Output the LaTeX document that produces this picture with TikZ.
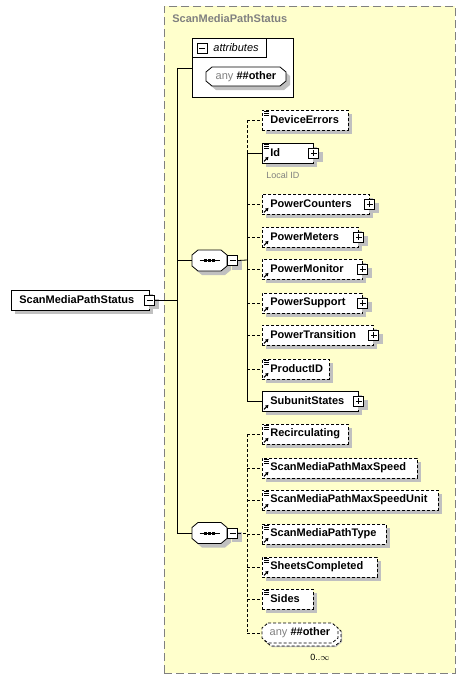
\documentclass[tikz,border=0pt]{standalone}
\usepackage{fontspec}
\setmainfont{Liberation Sans}
\usetikzlibrary{arrows.meta,positioning,shadows}
\definecolor{paleyel}{HTML}{FFFFCC}
\definecolor{midgray}{HTML}{808080}
\definecolor{shadegray}{HTML}{C0C0C0}

% markers drawn inside the element boxes
\newcommand\docmark[1]{\foreach \dy in {2,4,6} \draw[solid, line width=0.7pt] ([shift={(2,\dy)}]#1.north west) -- ++(5,0);}
\newcommand\refmark[1]{\draw[solid, line width=1pt, -{Triangle[length=3pt,width=3.5pt]}] ([shift={(2,-2)}]#1.south west) -- ([shift={(6.5,-6.5)}]#1.south west);}
\newcommand\seqmark[1]{\draw[solid] ([xshift=-10pt]#1.center) -- ([xshift=10pt]#1.center);
  \foreach \dx in {-4,0,4} \fill ([shift={(\dx-1.5,-1.5)}]#1.center) rectangle ++(3,3);}
% chamfered outline: options, centre x, centre y, half width, half height
\newcommand\octline[5]{\draw[fill=white,#1] (#2-#4+6,#3-#5) -- (#2+#4-6,#3-#5) -- (#2+#4,#3-#5+5) -- (#2+#4,#3+#5-5)
  -- (#2+#4-6,#3+#5) -- (#2-#4+6,#3+#5) -- (#2-#4,#3+#5-5) -- (#2-#4,#3-#5+5) -- cycle;}
\newcommand\octagonat[5]{\fill[shadegray] (#2-#4+10,#3-#5+4) -- (#2+#4-2,#3-#5+4) -- (#2+#4+4,#3-#5+9) -- (#2+#4+4,#3+#5-1)
  -- (#2+#4-2,#3+#5+4) -- (#2-#4+10,#3+#5+4) -- (#2-#4+4,#3+#5-1) -- (#2-#4+4,#3-#5+9) -- cycle;
  \octline{#1}{#2}{#3}{#4}{#5}}

\begin{document}
\begin{tikzpicture}[
  x=1pt, y=-1pt,
  font=\fontsize{11}{13}\selectfont\bfseries,
  line width=0.8pt,
  shd/.style={drop shadow={shadow xshift=4pt, shadow yshift=-4pt, fill=shadegray, opacity=1}},
  opt/.style={dash pattern=on 3pt off 2pt},
  elem/.style={draw, fill=white, anchor=west, minimum height=20pt, text width=#1, align=left, inner xsep=8pt, inner ysep=0pt, shd},
  optelem/.style={elem=#1, opt},
  pm/.style={draw, solid, fill=white, minimum size=10pt, inner sep=0pt},
  minusb/.style={pm, path picture={\draw[solid] ([xshift=2pt]path picture bounding box.west) -- ([xshift=-2pt]path picture bounding box.east);}},
  plusb/.style={pm, shd, path picture={\draw[solid] ([xshift=2pt]path picture bounding box.west) -- ([xshift=-2pt]path picture bounding box.east);
    \draw[solid] ([yshift=-2pt]path picture bounding box.north) -- ([yshift=2pt]path picture bounding box.south);}},
  octnode/.style={minimum width=#1, minimum height=20pt, inner sep=0pt},
  outerbox/.style={draw=midgray, fill=paleyel, dash pattern=on 8pt off 4pt, anchor=north west, minimum width=291pt, minimum height=667pt, inner sep=0pt},
  attrbox/.style={draw, fill=white, anchor=north west, minimum width=101pt, minimum height=59pt, inner sep=0pt},
  attrhead/.style={draw, anchor=north west, minimum height=19pt, text width=74pt, align=left, inner sep=0pt, font=\fontsize{11}{13}\selectfont\itshape}
]
\useasboundingbox (0,0) rectangle (466,680);

% ---- outer group ----
\node[outerbox] (grp) at (164,6) {};
\node[anchor=west, inner sep=2pt, text=midgray] (grp-title) at (170,19) {ScanMediaPathStatus};

% ---- root element ----
\node[elem=122pt] (root) at (11,300) {ScanMediaPathStatus};
\node[minusb, shd] (root-m) at (root.east) {};

% ---- attributes ----
\node[attrbox] (attr) at (192,38) {};
\node[attrhead] (attr-hd) at (192,38) {\hspace*{21pt}attributes};
\node[minusb] (attr-m) at (202,48) {};
\octagonat{}{246}{76.5}{40}{9.5}
\node[octnode=80pt] (attr-any) at (246,76.5) {{\mdseries\color{midgray}any} \#\#other};

% ---- sequences ----
\octagonat{}{209.5}{260.5}{17.5}{10.5}
\node[octnode=35pt] (seqa) at (209.5,260.5) {};
\node[minusb, shd, right=0pt of seqa] (seqa-m) {};
\seqmark{seqa}
\octagonat{}{209.5}{533}{17.5}{10.5}
\node[octnode=35pt] (seqb) at (209.5,533) {};
\node[minusb, shd, right=0pt of seqb] (seqb-m) {};
\seqmark{seqb}

\coordinate (trunk) at (177,300);
\coordinate (busa) at (247,260);
\coordinate (busb) at (247,533);

% ---- first sequence ----
\node[optelem=70pt] (deverr) at (262,120) {DeviceErrors};
\node[elem=35pt] (id) at (262,153) {Id};
\node[plusb] (id-p) at (id.east) {};
\node[anchor=west, inner sep=2pt, text=midgray, font=\fontsize{9}{11}\selectfont] (id-doc) at (264,175) {Local ID};
\node[optelem=91pt] (pwrcnt) at (262,204) {PowerCounters};
\node[plusb] (pwrcnt-p) at (pwrcnt.east) {};
\node[optelem=80pt] (pwrmet) at (262,237) {PowerMeters};
\node[plusb] (pwrmet-p) at (pwrmet.east) {};
\node[optelem=84pt] (pwrmon) at (262,269) {PowerMonitor};
\node[plusb] (pwrmon-p) at (pwrmon.east) {};
\node[optelem=84pt] (pwrsup) at (262,303) {PowerSupport};
\node[plusb] (pwrsup-p) at (pwrsup.east) {};
\node[optelem=95pt] (pwrtrn) at (262,335) {PowerTransition};
\node[plusb] (pwrtrn-p) at (pwrtrn.east) {};
\node[optelem=51pt] (prodid) at (262,369) {ProductID};
\node[elem=80pt] (subst) at (262,401) {SubunitStates};
\node[plusb] (subst-p) at (subst.east) {};

% ---- second sequence ----
\node[optelem=70pt] (recirc) at (262,434) {Recirculating};
\node[optelem=139pt] (maxspd) at (262,468) {ScanMediaPathMaxSpeed};
\node[optelem=160pt] (maxspdu) at (262,500) {ScanMediaPathMaxSpeedUnit};
\node[optelem=108pt] (smptype) at (262,534) {ScanMediaPathType};
\node[optelem=99pt] (sheets) at (262,567) {SheetsCompleted};
\node[optelem=35pt] (sides) at (262,599) {Sides};
\octagonat{opt, shift={(3,3)}}{300}{633}{38}{10}
\octline{opt}{300}{633}{38}{10}
\node[octnode=76pt] (anyo) at (300,633) {{\mdseries\color{midgray}any} \#\#other};
\node[font=\fontsize{9}{11}\selectfont, inner sep=1pt] (anyo-mult) at (320,657) {0..$\infty$};

\foreach \n in {deverr,id,prodid,recirc,maxspd,maxspdu,smptype,sheets,sides} {\docmark{\n}}
\foreach \n in {id,pwrcnt,pwrmet,pwrmon,pwrsup,pwrtrn,prodid,subst,recirc,maxspd,maxspdu,smptype,sheets} {\refmark{\n}}

% ---- connectors ----
\draw (root-m.east) -- (trunk |- root-m.east);
\draw (trunk |- attr.west) -- (trunk |- seqb.west);
\draw (trunk |- attr.west) -- (attr.west);
\draw (trunk |- seqa.west) -- (seqa.west);
\draw (trunk |- seqb.west) -- (seqb.west);

\draw (seqa-m.east) -- (busa);
\draw[opt] (busa |- deverr.west) -- (busa |- id.west);
\draw (busa |- id.west) -- (busa |- subst.west);
\draw (busa |- id.west) -- (id.west);
\draw (busa |- subst.west) -- (subst.west);
\foreach \n in {deverr,pwrcnt,pwrmet,pwrmon,pwrsup,pwrtrn,prodid}
  \draw[opt] (busa |- \n.west) -- (\n.west);

\draw[opt] (seqb-m.east) -- (busb);
\draw[opt] (busb |- recirc.west) -- (busb |- anyo.west);
\foreach \n in {recirc,maxspd,maxspdu,smptype,sheets,sides,anyo}
  \draw[opt] (busb |- \n.west) -- (\n.west);

\end{tikzpicture}
\end{document}
